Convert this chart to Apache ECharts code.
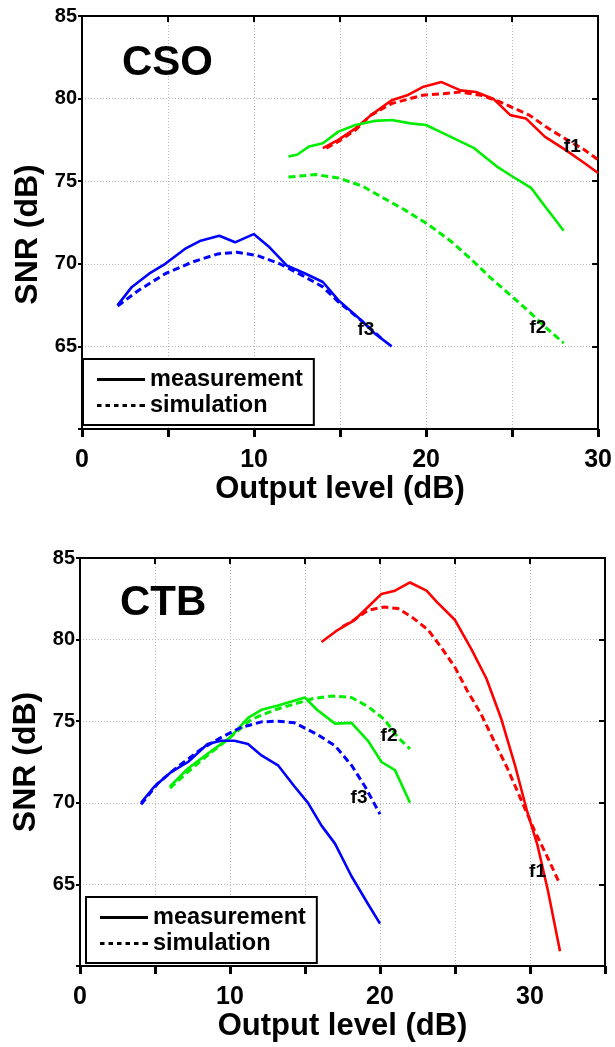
<!DOCTYPE html>
<html>
<head>
<meta charset="utf-8">
<script src="https://cdn.jsdelivr.net/npm/echarts@6/dist/echarts.min.js"></script>
<style>
html,body{margin:0;padding:0;background:#fff;}
#c{width:615px;height:1047px;}
</style>
</head>
<body>
<div id="c"></div>
<script>
// ---------- data (x = output level dB, y = SNR dB) ----------
const csoF1Meas = [[14.0,77.0],[14.9,77.5],[15.9,78.2],[16.8,79.0],[18.0,79.9],[18.9,80.2],[19.8,80.7],[20.9,81.0],[22.0,80.5],[22.9,80.4],[23.9,80.0],[24.9,79.0],[25.8,78.8],[26.9,77.7],[28.1,76.9],[29.2,76.1],[30.0,75.5]];
const csoF1Sim  = [[14.2,77.0],[14.9,77.4],[15.9,78.1],[16.8,79.0],[18.0,79.7],[19.8,80.2],[21.0,80.3],[22.0,80.4],[23.2,80.2],[24.3,79.8],[26.0,79.0],[27.1,78.2],[28.2,77.5],[29.2,76.9],[30.0,76.3]];
const csoF2Meas = [[12.0,76.5],[12.5,76.6],[13.2,77.1],[14.0,77.3],[14.9,78.0],[15.9,78.4],[17.0,78.65],[18.0,78.7],[19.1,78.5],[20.0,78.4],[20.8,78.0],[21.8,77.5],[22.8,77.0],[23.5,76.4],[24.1,75.9],[25.0,75.3],[26.1,74.6],[26.9,73.5],[28.0,72.0]];
const csoF2Sim  = [[12.0,75.25],[12.5,75.3],[13.6,75.4],[14.9,75.2],[16.3,74.7],[17.4,74.05],[18.7,73.3],[20.1,72.4],[21.4,71.4],[22.6,70.3],[23.7,69.2],[24.8,68.2],[26.0,67.1],[26.9,66.2],[28.0,65.2]];
const csoF3Meas = [[2.07,67.5],[2.9,68.6],[3.9,69.4],[4.84,70.0],[5.98,70.9],[6.9,71.4],[7.98,71.7],[8.9,71.3],[9.98,71.8],[10.9,71.0],[11.9,69.9],[13.0,69.4],[14.0,68.9],[14.9,67.8],[16.1,66.7],[17.0,65.8],[18.0,65.0]];
const csoF3Sim  = [[2.07,67.45],[3.3,68.4],[4.84,69.4],[6.4,70.1],[7.9,70.6],[9.0,70.7],[10.2,70.5],[11.5,70.0],[12.8,69.3],[14.0,68.6],[14.9,67.7],[16.2,66.6],[17.5,65.4]];

const ctbF1Meas = [[16.1,79.85],[17.2,80.6],[18.3,81.2],[19.2,82.0],[20.1,82.8],[21.0,83.0],[22.0,83.5],[23.1,83.0],[23.8,82.3],[25.0,81.2],[26.1,79.4],[27.1,77.6],[28.1,75.1],[29.0,72.3],[29.8,69.5],[30.5,67.4],[31.2,64.6],[32.0,60.9]];
const ctbF1Sim  = [[17.5,80.8],[18.1,81.1],[19.2,81.8],[20.3,82.0],[21.2,81.9],[22.1,81.4],[23.2,80.6],[24.1,79.5],[25.0,78.3],[25.8,76.9],[26.7,75.5],[27.6,73.8],[28.5,72.1],[29.4,70.2],[30.3,68.3],[31.2,66.6],[32.0,65.0]];
const ctbF2Meas = [[6.0,71.0],[7.2,72.1],[8.5,73.0],[10.0,74.0],[11.2,75.2],[12.1,75.7],[13.2,75.96],[14.1,76.2],[15.0,76.45],[15.8,75.7],[17.0,74.85],[18.1,74.9],[19.2,73.8],[20.1,72.5],[21.0,72.0],[22.0,70.0]];
const ctbF2Sim  = [[6.0,70.9],[7.2,71.9],[8.5,72.9],[10.0,74.0],[11.4,75.1],[13.0,75.7],[14.1,76.0],[15.6,76.4],[16.8,76.55],[18.1,76.45],[19.2,75.9],[20.3,75.1],[21.2,74.0],[22.0,73.3]];
const ctbF3Meas = [[4.07,70.0],[4.96,71.0],[6.1,71.9],[7.2,72.5],[8.5,73.6],[9.4,73.8],[10.3,73.8],[11.2,73.6],[12.1,72.9],[13.2,72.3],[14.3,71.0],[15.2,70.0],[16.1,68.6],[17.0,67.5],[18.1,65.5],[19.2,63.8],[20.0,62.6]];
const ctbF3Sim  = [[4.07,69.9],[5.2,71.2],[6.5,72.2],[8.1,73.3],[9.4,74.0],[10.7,74.6],[12.1,74.96],[13.2,75.0],[14.3,74.9],[15.8,74.2],[17.0,73.5],[18.1,72.3],[19.0,71.0],[20.0,69.3]];

// curve tags (name, x, y)
const csoTags = [['f1',28.5,77.1],['f2',26.5,66.1],['f3',16.5,66.0]];
const ctbTags = [['f2',20.6,74.1],['f3',18.6,70.3],['f1',30.5,65.8]];

const panelTitles = ['CSO','CTB'];
const legendNames = ['measurement','simulation'];
const xName = 'Output level (dB)';
const yName = 'SNR (dB)';
const yMin = 60, yMax = 85, yStep = 5;
const xMaxCso = 30, xMaxCtb = 35, xStep = 5;

// ---------- styling ----------
const FONT = '"Liberation Sans", Arial, Helvetica, sans-serif';
const RED = '#ff0000', GREEN = '#00ee00', BLUE = '#0000ff';
const DASH = [7,4];
const ICON_SOLID = 'path://M0,0H48V3H0Z';
const ICON_DOTTED = 'path://M0,0H4.5V3H0Z M8.5,0H13V3H8.5Z M17,0H21.5V3H17Z M25.5,0H30V3H25.5Z M34,0H38.5V3H34Z M42.5,0H47V3H42.5Z M47,0H48V3H47Z';

function xAxes(gi, xmax){
  return [
    { type:'value', gridIndex:gi, min:0, max:xmax, interval:xStep, position:'bottom',
      name:xName, nameLocation:'middle', nameGap:44,
      nameTextStyle:{fontFamily:FONT,fontSize:31,fontWeight:'bold',color:'#000'},
      axisLine:{show:true,onZero:false,lineStyle:{color:'#000',width:2}},
      axisTick:{show:true,inside:false,length:8,lineStyle:{color:'#000',width:3}},
      axisLabel:{show:true,margin:19,fontFamily:FONT,fontSize:25,fontWeight:'bold',color:'#000',
        formatter:v=> (v%10===0 ? String(v) : '')},
      splitLine:{show:true,lineStyle:{color:'#b8b8b8',width:1,type:[1,2]}} },
    { type:'value', gridIndex:gi, min:0, max:xmax, interval:xStep, position:'top',
      axisLine:{show:true,onZero:false,lineStyle:{color:'#000',width:2}},
      axisTick:{show:true,inside:true,length:6,lineStyle:{color:'#000',width:2}},
      axisLabel:{show:false}, splitLine:{show:false} }
  ];
}
function yAxes(gi, namePad){
  return [
    { type:'value', gridIndex:gi, min:yMin, max:yMax, interval:yStep, position:'left',
      name:yName, nameLocation:'middle', nameGap:38, nameRotate:90,
      nameTextStyle:{fontFamily:FONT,fontSize:32,fontWeight:'bold',color:'#000',padding:namePad},
      axisLine:{show:true,onZero:false,lineStyle:{color:'#000',width:2}},
      axisTick:{show:true,inside:false,length:4,lineStyle:{color:'#000',width:2}},
      axisLabel:{show:true,margin:5,fontFamily:FONT,fontSize:20,fontWeight:'bold',color:'#000',
        showMinLabel:true,showMaxLabel:true,
        formatter:v=> (v===yMin ? '' : String(v))},
      splitLine:{show:true,lineStyle:{color:'#b8b8b8',width:1,type:[1,2]}} },
    { type:'value', gridIndex:gi, min:yMin, max:yMax, interval:yStep, position:'right',
      axisLine:{show:true,onZero:false,lineStyle:{color:'#000',width:2}},
      axisTick:{show:true,inside:true,length:6,lineStyle:{color:'#000',width:2}},
      axisLabel:{show:false}, splitLine:{show:false} }
  ];
}

function curve(name, data, color, dashed, xi, yi){
  return { type:'line', name:name, data:data, xAxisIndex:xi, yAxisIndex:yi,
    symbol:'none', smooth:false, silent:true, z:3,
    lineStyle:{color:color, width: dashed?3:2.6, type: dashed?DASH:'solid'},
    itemStyle:{color:color} };
}
function tags(list, xi, yi){
  return { type:'scatter', xAxisIndex:xi, yAxisIndex:yi, silent:true, z:5,
    symbolSize:0, itemStyle:{color:'#000'},
    data: list.map(t=>({name:t[0], value:[t[1],t[2]]})),
    label:{show:true, position:'inside', formatter:p=>p.name,
      fontFamily:FONT, fontSize:19, fontWeight:'bold', color:'#000',
      textBorderWidth:0, textBorderColor:'transparent', opacity:1} };
}
function legendDummies(xi, yi){
  return [
    { type:'line', name:legendNames[0], data:[], xAxisIndex:xi, yAxisIndex:yi, symbol:'none',
      lineStyle:{color:'#000',width:3,type:'solid'}, itemStyle:{color:'#000'} },
    { type:'line', name:legendNames[1], data:[], xAxisIndex:xi, yAxisIndex:yi, symbol:'none',
      lineStyle:{color:'#000',width:3,type:[4,3]}, itemStyle:{color:'#000'} }
  ];
}
function legendBox(left, top){
  return { show:true, orient:'vertical', left:left, top:top,
    data:[ {name:legendNames[0], icon:ICON_SOLID}, {name:legendNames[1], icon:ICON_DOTTED} ],
    selectedMode:false, symbolKeepAspect:true,
    itemStyle:{color:'#000', borderWidth:0}, lineStyle:{opacity:0},
    borderColor:'#000', borderWidth:2, borderRadius:0, backgroundColor:'#fff',
    padding:[8,11,7,14], itemGap:1, itemWidth:48, itemHeight:14,
    textStyle:{fontFamily:FONT,fontSize:23.5,fontWeight:'bold',color:'#000',lineHeight:25} };
}

const option = {
  animation:false,
  backgroundColor:'#fff',
  title:[
    { text:panelTitles[0], left:122, top:42, padding:0, textStyle:{fontFamily:FONT,fontSize:42,fontWeight:'bold',color:'#000'} },
    { text:panelTitles[1], left:120, top:582, padding:0, textStyle:{fontFamily:FONT,fontSize:42,fontWeight:'bold',color:'#000'} }
  ],
  grid:[
    { left:82, top:16, width:525, height:413 },
    { left:80, top:558, width:525, height:408 }
  ],
  xAxis:[...xAxes(0,xMaxCso), ...xAxes(1,xMaxCtb)],
  yAxis:[...yAxes(0,[0,24,0,0]), ...yAxes(1,[0,0,0,0])],
  legend:[ legendBox(83,359), legendBox(86,897) ],
  series:[
    curve('CSO f1 meas', csoF1Meas, RED, false, 0, 0),
    curve('CSO f1 sim',  csoF1Sim,  RED, true, 0, 0),
    curve('CSO f2 meas', csoF2Meas, GREEN, false, 0, 0),
    curve('CSO f2 sim',  csoF2Sim,  GREEN, true, 0, 0),
    curve('CSO f3 meas', csoF3Meas, BLUE, false, 0, 0),
    curve('CSO f3 sim',  csoF3Sim,  BLUE, true, 0, 0),
    tags(csoTags, 0, 0),
    ...legendDummies(0,0),
    curve('CTB f1 meas', ctbF1Meas, RED, false, 2, 2),
    curve('CTB f1 sim',  ctbF1Sim,  RED, true, 2, 2),
    curve('CTB f2 meas', ctbF2Meas, GREEN, false, 2, 2),
    curve('CTB f2 sim',  ctbF2Sim,  GREEN, true, 2, 2),
    curve('CTB f3 meas', ctbF3Meas, BLUE, false, 2, 2),
    curve('CTB f3 sim',  ctbF3Sim,  BLUE, true, 2, 2),
    tags(ctbTags, 2, 2)
  ]
};
const chart = echarts.init(document.getElementById('c'), null, {renderer:'canvas'});
chart.setOption(option);
</script>
</body>
</html>
